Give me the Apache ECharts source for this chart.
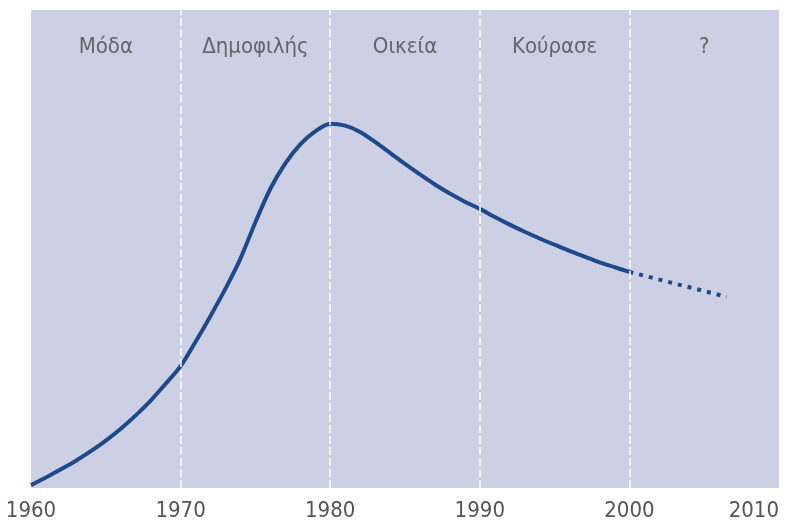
<!DOCTYPE html>
<html>
<head>
<meta charset="utf-8">
<title>Κύκλος ζωής</title>
<script src="https://cdn.jsdelivr.net/npm/echarts@6/dist/echarts.min.js"></script>
<style>
  html, body { margin: 0; padding: 0; background: #fff; }
  #chart { width: 796px; height: 525px; }
</style>
</head>
<body>
<div id="chart"></div>
<script>
// phases (top labels) and their decade boundaries
const phaseNames = ["Μόδα", "Δημοφιλής", "Οικεία", "Κούρασε", "?"];
const phaseEdges = [1960, 1970, 1980, 1990, 2000, 2010];
const dividerYears = [1970, 1980, 1990, 2000];

const years = [
  1960, 1961, 1962, 1963, 1964, 1965, 1966, 1967, 1968, 1969,
  1970, 1971, 1972, 1973, 1974, 1975, 1976, 1977, 1978, 1979,
  1980, 1981, 1982, 1983, 1984, 1985, 1986, 1987, 1988, 1989,
  1990, 1991, 1992, 1993, 1994, 1995, 1996, 1997, 1998, 1999, 2000,
];
const values = [
  0.6, 2.2, 3.9, 5.7, 7.7, 9.9, 12.4, 15.2, 18.3, 21.8,
  25.5, 30.6, 36.0, 41.7, 48.0, 55.6, 62.6, 67.9, 71.9, 74.6,
  76.2, 75.8, 74.5, 72.4, 70.1, 67.8, 65.6, 63.5, 61.6, 59.9,
  58.4, 56.7, 55.1, 53.6, 52.2, 50.9, 49.6, 48.4, 47.2, 46.2, 45.2,
];

// projected part (dotted)
const forecastYears = [2000, 2006.5];
const forecastValues = [45.2, 40.0];

const font = "'Liberation Sans Narrow', 'DejaVu Sans Condensed', sans-serif";
const lineColor = "#1e4a8c";

const chart = echarts.init(document.getElementById("chart"));

const phaseAreas = phaseNames.map((name, i) => [
  { xAxis: phaseEdges[i], name: name },
  { xAxis: phaseEdges[i + 1] },
]);

const option = {
  animation: false,
  grid: {
    left: 31,
    right: 17,
    top: 10,
    bottom: 37,
    outerBoundsMode: "none",
    show: true,
    backgroundColor: "#cdd0e5",
    borderWidth: 0,
  },
  xAxis: {
    type: "value",
    min: 1960,
    max: 2010,
    interval: 10,
    axisLine: { show: false },
    axisTick: { show: false },
    splitLine: { show: false },
    axisLabel: {
      color: "#555",
      fontFamily: font,
      fontSize: 22,
      margin: 12,
      alignMaxLabel: "right",
      formatter: (v) => String(v),
    },
  },
  yAxis: {
    type: "value",
    min: 0,
    max: 100,
    show: false,
  },
  series: [
    {
      type: "line",
      data: years.map((y, i) => [y, values[i]]),
      smooth: 0.3,
      showSymbol: false,
      lineStyle: { color: lineColor, width: 4 },
      z: 3,
      markLine: {
        silent: true,
        symbol: "none",
        label: { show: false },
        lineStyle: { color: "#fff", width: 1.5, type: [8, 3] },
        data: dividerYears.map((y) => ({ xAxis: y })),
      },
      markArea: {
        silent: true,
        itemStyle: { color: "transparent" },
        label: {
          position: "insideTop",
          distance: 26,
          color: "#666",
          fontFamily: font,
          fontSize: 22,
        },
        data: phaseAreas,
      },
    },
    {
      type: "line",
      data: forecastYears.map((y, i) => [y, forecastValues[i]]),
      showSymbol: false,
      lineStyle: { color: lineColor, width: 4, type: [4, 6] },
      z: 3,
    },
  ],
};

chart.setOption(option);
</script>
</body>
</html>
